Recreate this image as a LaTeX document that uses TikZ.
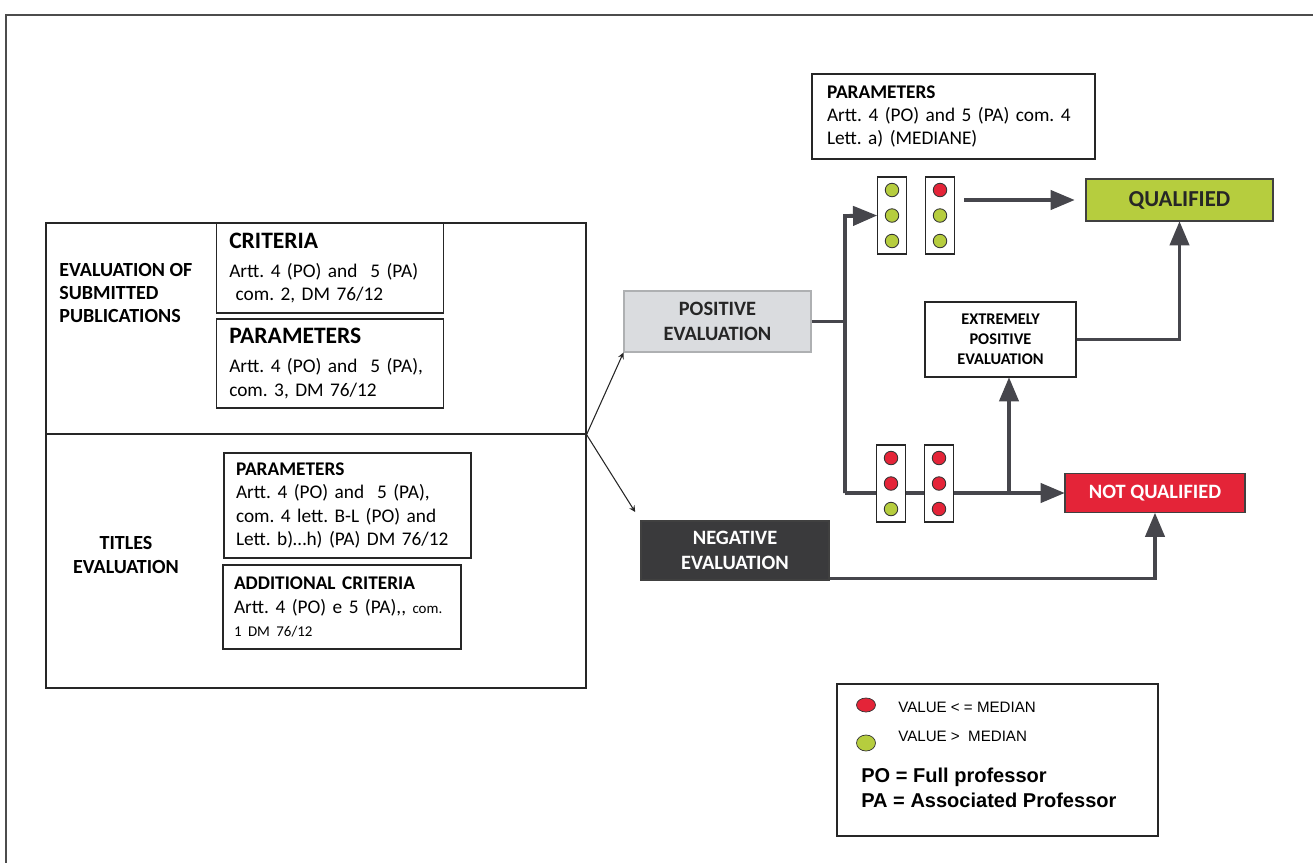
\documentclass[tikz,border=0pt]{standalone}
\usepackage{fontspec}
\setmainfont{Carlito}
\newfontfamily\arialfont{Liberation Sans}
\frenchspacing
\usetikzlibrary{arrows,%
                shapes.geometric}
\definecolor{qdark}{RGB}{70,70,76}
\definecolor{qpos}{RGB}{218,220,223}
\definecolor{qneg}{RGB}{58,58,60}
\definecolor{qok}{RGB}{182,205,62}
\definecolor{qko}{RGB}{228,36,56}
\tikzstyle{qframe}=[rectangle, draw=black!85, line width=0.7pt]
\tikzstyle{qtext}=[rectangle, draw=black!85, line width=0.7pt, align=left, inner xsep=0.26cm, inner ysep=0pt,
                   font=\fontsize{11}{13.4}\selectfont]
\tikzstyle{qeval}=[rectangle, draw=black!75, line width=0.6pt, align=center, inner sep=0pt,
                   font=\bfseries\fontsize{11.6}{13.8}\selectfont]
\tikzstyle{qlight}=[rectangle, draw=black!85, fill=white, line width=0.7pt, minimum width=0.58cm, minimum height=1.54cm]
\tikzstyle{qdot}=[circle, draw=black!80, line width=0.5pt, inner sep=0pt, minimum size=0.27cm]
\tikzstyle{qline}=[draw=qdark, line width=2.2pt]
\tikzstyle{qarr}=[qline, -triangle 45]
\tikzstyle{qthin}=[draw=black!85, line width=0.6pt, -stealth]

\begin{document}
\begin{tikzpicture}[x=0.02cm,y=-0.02cm]
  \useasboundingbox (0,0) rectangle (1313,863);
  % page frame
  \draw[black!70, line width=0.8pt] (5,15) -- (1313,15);
  \draw[black!70, line width=0.8pt] (6,15) -- (6,863);

  % left block
  \node[qframe, minimum width=10.8cm, minimum height=4.22cm] (pub) at (316,328.5) {};
  \node[qframe, minimum width=10.8cm, minimum height=5.08cm] (tit) at (316,561) {};
  \node[anchor=west, align=left, inner sep=0pt, font=\bfseries\fontsize{11.4}{12.9}\selectfont] (pubname) at (59,293)
       {EVALUATION OF\\SUBMITTED\\PUBLICATIONS};
  \node[align=center, inner sep=0pt, font=\bfseries\fontsize{11.4}{13.7}\selectfont] (titname) at (126,555)
       {TITLES\\EVALUATION};

  \node[qtext, text width=4.03cm, minimum height=1.8cm] (crit) at (330,268)
       {{\fontsize{13.4}{16}\selectfont\bfseries CRITERIA}\\[3pt]
        Artt. 4 (PO) and\ \ 5 (PA)\\\ com. 2, DM 76/12};
  \node[qtext, text width=4.03cm, minimum height=1.78cm] (parpub) at (330,363.5)
       {{\fontsize{13.4}{16}\selectfont\bfseries PARAMETERS}\\[3pt]
        Artt. 4 (PO) and\ \ 5 (PA),\\com. 3, DM 76/12};
  \node[qtext, text width=4.46cm, inner xsep=0.24cm, minimum height=2.1cm] (partit) at (347.5,505.5)
       {\textbf{PARAMETERS}\\Artt. 4 (PO) and\ \ 5 (PA),\\com. 4 lett. B-L (PO) and\\Lett. b)…h) (PA) DM 76/12};
  \node[qtext, text width=4.32cm, inner xsep=0.22cm, minimum height=1.68cm] (addcrit) at (342,607)
       {\textbf{ADDITIONAL CRITERIA}\\Artt. 4 (PO) e 5 (PA),{},\ {\fontsize{8.5}{10}\selectfont com.}\\
        {\fontsize{8.5}{10}\selectfont 1 DM 76/12}};

  % evaluations and results
  \node[qeval, fill=qpos, draw=qpos!80!black, text=black!85, minimum width=3.74cm, minimum height=1.22cm] (pos) at (717.5,321.5)
       {POSITIVE\\EVALUATION};
  \node[qeval, fill=qneg, text=white, minimum width=3.76cm, minimum height=1.18cm] (neg) at (735,550.5)
       {NEGATIVE\\EVALUATION};
  \node[qeval, fill=white, draw=black!85, minimum width=3.02cm, minimum height=1.5cm,
        font=\bfseries\fontsize{9.3}{11.4}\selectfont] (ext) at (1000.5,339.5)
       {EXTREMELY\\POSITIVE\\EVALUATION};
  \node[qeval, fill=qok, text=black!85, minimum width=3.74cm, minimum height=0.84cm,
        font=\bfseries\fontsize{13}{15}\selectfont] (qual) at (1179.5,200) {QUALIFIED};
  \node[qeval, fill=qko, text=white, minimum width=3.6cm, minimum height=0.78cm,
        font=\bfseries\fontsize{11.6}{14}\selectfont] (notq) at (1155,493) {NOT QUALIFIED};
  \node[qtext, text width=5.06cm, inner xsep=0.3cm, minimum height=1.7cm, font=\fontsize{11}{13.2}\selectfont] (parmed) at (953.5,116.5)
       {\textbf{PARAMETERS}\\Artt. 4 (PO) and 5 (PA) com. 4\\Lett. a) (MEDIANE)};

  \coordinate (split) at (pub.south east);
  \coordinate (jn) at (845,321.5);
  \coordinate (jtop) at (845,216);
  \coordinate (jbot) at (845,493);
  \coordinate (jup) at (1009,493);

  \draw[qthin] (split) -- (pos.south west);
  \draw[qthin, shorten >=0.2cm] (split) -- (neg.north west);
  \draw[qline] (pos.east) -- (jn);
  \draw[qarr] (jbot) -- (jbot -| notq.west);
  \draw[qarr] (jup) -- (jup |- ext.south);
  \draw[qarr] (ext.east) -| (qual.south);
  \draw[qarr] ([yshift=0.04cm]neg.south east) -| (notq.south);

  % traffic lights
  \foreach \n/\x/\y/\ca/\cb/\cc in {tla/892/215.5/qok/qok/qok,
                                  tlb/940/215.5/qko/qok/qok,
                                  tlc/891/483.5/qko/qko/qok,
                                  tld/939/483.5/qko/qko/qko}{
    \node[qlight] (\n) at (\x,\y) {};
    \node[qdot, fill=\ca] (\n-1) at (\x,\y-25.5) {};
    \node[qdot, fill=\cb] (\n-2) at (\x,\y) {};
    \node[qdot, fill=\cc] (\n-3) at (\x,\y+25.5) {};
  }
  \draw[qarr] (jbot) -- (jtop) -- (tla.west);
  \draw[qarr, shorten <=0.18cm, shorten >=0.22cm] (tlb.east |- qual.west) -- (qual.west);

  % legend
  \node[qframe, minimum width=6.42cm, minimum height=3.04cm] (legend) at (997.5,760) {};
  \node[ellipse, draw=black!80, fill=qko, inner sep=0pt, minimum width=0.38cm, minimum height=0.28cm] (lgko) at (866,705) {};
  \node[ellipse, draw=black!80, fill=qok, inner sep=0pt, minimum width=0.38cm, minimum height=0.32cm] (lgok) at (866,743) {};
  \node[anchor=west, inner sep=0pt, font=\arialfont\fontsize{8.6}{10}\selectfont] (lgkotxt) at (898,707) {VALUE < = MEDIAN};
  \node[anchor=west, inner sep=0pt, font=\arialfont\fontsize{8.6}{10}\selectfont] (lgoktxt) at (898,736) {VALUE >\ \ MEDIAN};
  \node[anchor=west, inner sep=0pt, font=\arialfont\bfseries\fontsize{11.4}{13}\selectfont] (lgpo) at (861,777) {PO = Full professor};
  \node[anchor=west, inner sep=0pt, font=\arialfont\bfseries\fontsize{11.4}{13}\selectfont] (lgpa) at (861,800) {PA = Associated Professor};
\end{tikzpicture}
\end{document}
